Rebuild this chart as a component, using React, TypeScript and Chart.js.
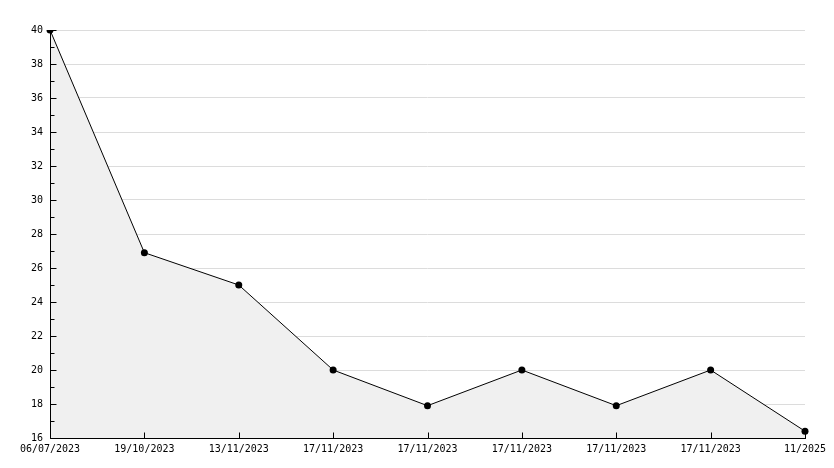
import React, { useEffect, useRef } from "react";
import { Chart, registerables } from "chart.js";

Chart.register(...registerables);

const dateLabels = [
  "06/07/2023",
  "19/10/2023",
  "13/11/2023",
  "17/11/2023",
  "17/11/2023",
  "17/11/2023",
  "17/11/2023",
  "17/11/2023",
  "11/2025",
];
const seriesValues = [40, 26.9, 25, 20, 17.9, 20, 17.9, 20, 16.4];
const yMin = 16;
const yMax = 40;
const yStep = 2;

const FONT = "'DejaVu Sans Mono', monospace";

const axisPlugin = {
  id: "axisPlugin",
  afterDatasetsDraw(chart: any) {
    const { ctx, chartArea, scales } = chart;
    const { left, right, top, bottom } = chartArea;
    const x = scales.x;
    const y = scales.y;
    ctx.save();
    ctx.strokeStyle = "#000";
    ctx.lineWidth = 1;
    ctx.beginPath();
    const lx = Math.round(left) + 0.5;
    const by = Math.round(bottom) + 0.5;
    ctx.moveTo(lx, Math.round(top));
    ctx.lineTo(lx, by);
    ctx.lineTo(Math.round(right) + 1, by);
    for (let v = yMin; v <= yMax; v += 1) {
      const py = Math.round(y.getPixelForValue(v)) + 0.5;
      const len = (v - yMin) % yStep === 0 ? 6 : 4;
      ctx.moveTo(lx, py);
      ctx.lineTo(lx + len, py);
    }
    for (let i = 0; i < dateLabels.length; i++) {
      const px = Math.round(x.getPixelForValue(i)) + 0.5;
      ctx.moveTo(px, by);
      ctx.lineTo(px, by - 6);
    }
    ctx.stroke();
    ctx.restore();
  },
};

export default function App() {
  const ref = useRef<HTMLCanvasElement | null>(null);
  useEffect(() => {
    document.body.style.margin = "0";
    const canvas = ref.current!;
    const chart = new Chart(canvas, {
      type: "line",
      data: {
        labels: dateLabels,
        datasets: [
          {
            data: seriesValues,
            borderColor: "#000",
            borderWidth: 1,
            backgroundColor: "#f0f0f0",
            fill: "start",
            tension: 0,
            pointRadius: 3.5,
            pointBackgroundColor: "#000",
            pointBorderColor: "#000",
            pointBorderWidth: 0,
          },
        ],
      },
      options: {
        responsive: false,
        animation: false,
        devicePixelRatio: 1,
        layout: { padding: { top: 30, right: 29, left: 0, bottom: 0 } },
        plugins: {
          legend: { display: false },
          tooltip: { enabled: false },
        },
        scales: {
          x: {
            type: "category",
            offset: false,
            grid: { display: false, drawTicks: false },
            border: { display: false },
            ticks: {
              color: "#000",
              font: { family: FONT, size: 10 },
              maxRotation: 0,
              minRotation: 0,
              autoSkip: false,
              padding: 5,
            },
            afterFit(scale: any) {
              scale.height = 30;
              scale.paddingLeft = 0;
              scale.paddingRight = 0;
            },
          },
          y: {
            type: "linear",
            min: yMin,
            max: yMax,
            grid: { color: "#dcdcdc", lineWidth: 1, drawTicks: false },
            border: { display: false },
            ticks: {
              stepSize: yStep,
              color: "#000",
              font: { family: FONT, size: 10 },
              padding: 7,
            },
            afterFit(scale: any) {
              scale.width = 50;
              scale.paddingTop = 0;
              scale.paddingBottom = 0;
            },
          },
        },
      },
      plugins: [axisPlugin],
    });
    return () => chart.destroy();
  }, []);
  return (
    <div style={{ position: "absolute", left: 0, top: 0, width: 834, height: 468, background: "#fff" }}>
      <canvas ref={ref} width={834} height={468} style={{ width: 834, height: 468, display: "block" }} />
    </div>
  );
}
